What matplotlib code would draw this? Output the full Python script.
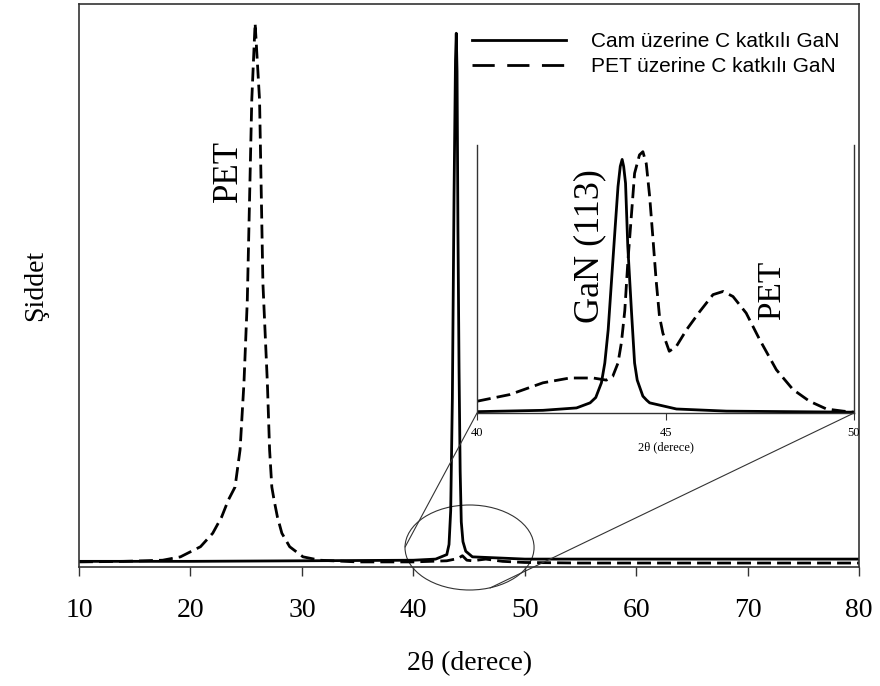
import matplotlib.pyplot as plt
from matplotlib.lines import Line2D
from matplotlib.patches import Ellipse, ConnectionPatch

## main curves (2theta, normalized intensity)
x_cam = [10, 20, 30, 40, 42, 43, 43.2, 43.35, 43.5, 43.65, 43.78, 43.85, 43.92,
         44.0, 44.1, 44.2, 44.3, 44.45, 44.7, 45.3, 50, 60, 70, 80]
y_cam = [0.010, 0.010, 0.011, 0.012, 0.014, 0.022, 0.04, 0.10, 0.30, 0.66,
         0.90, 0.948, 0.88, 0.60, 0.35, 0.17, 0.08, 0.045, 0.028, 0.018,
         0.014, 0.014, 0.014, 0.014]

x_pet = [10, 14, 17.5, 19.1, 20.9, 22.0, 22.8, 23.4, 24.0, 24.45, 24.8, 25.1,
         25.5, 25.8, 26.2, 26.5, 26.9, 27.1, 27.3, 27.5, 27.8, 28.2, 28.9,
         30.1, 31.6, 35, 40, 43, 44.0, 44.4, 44.8, 45.3, 46.5, 48, 50, 55,
         60, 70, 80]
y_pet = [0.009, 0.010, 0.012, 0.018, 0.036, 0.060, 0.089, 0.119, 0.142, 0.208,
         0.327, 0.474, 0.829, 0.966, 0.829, 0.504, 0.327, 0.208, 0.142, 0.119,
         0.089, 0.060, 0.036, 0.018, 0.012, 0.009, 0.009, 0.011, 0.015, 0.020,
         0.012, 0.011, 0.014, 0.010, 0.008, 0.007, 0.007, 0.007, 0.007]

## inset curves (40-50 deg)
xi_cam = [40, 41.75, 42.64, 43.0, 43.15, 43.3, 43.39, 43.48, 43.57, 43.66,
          43.74, 43.8, 43.85, 43.89, 43.94, 44.0, 44.1, 44.18, 44.25, 44.4,
          44.5, 44.58, 45.29, 46.62, 50]
yi_cam = [0.002, 0.007, 0.016, 0.035, 0.055, 0.11, 0.184, 0.309, 0.496, 0.682,
          0.844, 0.92, 0.946, 0.92, 0.857, 0.62, 0.371, 0.184, 0.12, 0.06,
          0.045, 0.035, 0.012, 0.004, 0.0]

xi_pet = [40, 40.87, 41.75, 42.46, 43.08, 43.43, 43.6, 43.74, 43.83, 43.92,
          44.0, 44.1, 44.18, 44.31, 44.4, 44.49, 44.58, 44.67, 44.75, 44.84,
          44.93, 45.1, 45.29, 45.56, 45.91, 46.26, 46.53, 46.79, 47.14, 47.5,
          47.94, 48.38, 48.82, 49.27, 49.71, 50]
yi_pet = [0.041, 0.066, 0.11, 0.128, 0.128, 0.12, 0.134, 0.184, 0.26, 0.38,
          0.56, 0.745, 0.894, 0.963, 0.975, 0.93, 0.807, 0.645, 0.496, 0.359,
          0.296, 0.228, 0.247, 0.309, 0.377, 0.44, 0.452, 0.433, 0.371, 0.271,
          0.159, 0.085, 0.041, 0.012, 0.004, 0.0]

labels = ['Cam üzerine C katkılı GaN', 'PET üzerine C katkılı GaN']
xticks = [10, 20, 30, 40, 50, 60, 70, 80]
xticks_in = [40, 45, 50]

plt.rcParams['font.family'] = 'Liberation Serif'
spine_c = '#333333'

fig = plt.figure(figsize=(8.8, 6.86), dpi=100)
ax = fig.add_axes([0.0898, 0.1735, 0.8865, 0.8207])

ax.plot(x_cam, y_cam, color='black', lw=2)
ax.plot(x_pet, y_pet, color='black', lw=2, dashes=(5, 2.2))
ax.set_xlim(10, 80)
ax.set_ylim(0, 1.0)
ax.set_xticks(xticks)
ax.set_yticks([])
ax.tick_params(axis='x', direction='out', length=6.5, width=1, colors=spine_c,
               labelsize=20, labelcolor='black', pad=16)
for s in ax.spines.values():
    s.set_color(spine_c)
    s.set_linewidth(1.2)
ax.set_xlabel('2θ (derece)', fontsize=20, labelpad=20)
ax.set_ylabel('Şiddet', fontsize=20, labelpad=22)
ax.text(23.37, 0.703, 'PET', rotation=90, fontsize=25, ha='center', va='center')

# zoom ellipse
ell = Ellipse((45.04, 0.0346), 11.58, 0.151, fill=False, lw=0.8,
              color=spine_c, clip_on=False)
ax.add_patch(ell)

# legend
h = [Line2D([], [], color='black', lw=2),
     Line2D([], [], color='black', lw=2, dashes=(8, 4.5))]
ax.legend(h, labels, loc='upper left', bbox_to_anchor=(472 / 880, 1 - 32 / 686),
          bbox_transform=fig.transFigure, frameon=False, borderpad=0,
          borderaxespad=0, handlelength=4.5, handletextpad=1.2,
          labelspacing=0.3, prop={'family': 'Liberation Sans', 'size': 15})

# inset
axin = fig.add_axes([477 / 880, 1 - 413 / 686, 377 / 880, 268 / 686])
axin.plot(xi_cam, yi_cam, color='black', lw=2)
axin.plot(xi_pet, yi_pet, color='black', lw=2, dashes=(5, 2.2))
axin.set_xlim(40, 50)
axin.set_ylim(-0.003, 1.0)
axin.set_xticks(xticks_in)
axin.set_yticks([])
axin.spines['top'].set_visible(False)
for s in ['left', 'right', 'bottom']:
    axin.spines[s].set_color(spine_c)
    axin.spines[s].set_linewidth(1.0)
axin.tick_params(axis='x', direction='out', length=5, width=0.8,
                 colors=spine_c, labelsize=9, labelcolor='black', pad=5)
axin.set_xlabel('2θ (derece)', fontsize=9, labelpad=2)
axin.patch.set_alpha(0)
axin.text(43.0, 0.623, 'GaN (113)', rotation=90, fontsize=26,
          ha='center', va='center')
axin.text(47.82, 0.455, 'PET', rotation=90, fontsize=24,
          ha='center', va='center')

# connector lines
for pa, pb in [((0, 0), (39.26, 0.0355)), ((1, 0), (46.88, -0.0373))]:
    cp = ConnectionPatch(xyA=pa, coordsA=axin.transAxes, xyB=pb,
                         coordsB=ax.transData, color=spine_c, lw=0.8)
    fig.add_artist(cp)

fig.savefig('out.png', dpi=100)
